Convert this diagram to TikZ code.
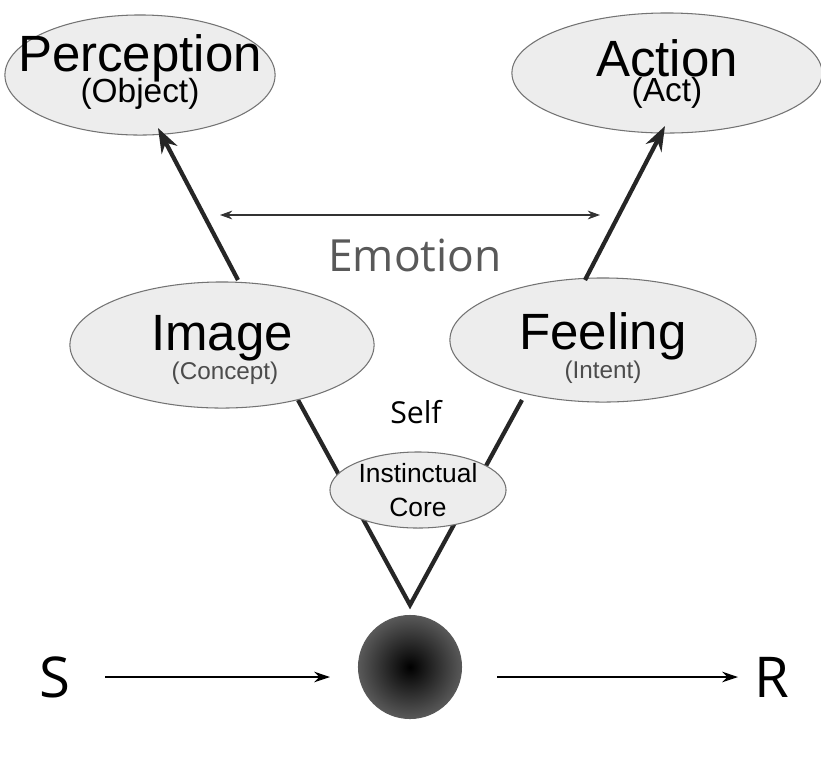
\documentclass[tikz,border=0pt]{standalone}
\usepackage{fontspec}
\setmainfont{Liberation Sans}
\newfontfamily\osans{Open Sans}
\usetikzlibrary{shapes.geometric,arrows.meta}
\begin{document}
\begin{tikzpicture}[x=0.01cm,y=-0.01cm,
 ell/.style={draw=black!55,line width=0.3pt,fill=black!7,ellipse,inner sep=0pt},
 big/.style={font=\fontsize{14.5}{14.5}\selectfont},
 sub/.style={font=\fontsize{9.5}{9.5}\selectfont},
 vline/.style={line width=1.2pt,black!85},
 harr/.style={-{Stealth[length=4.5pt,width=3pt]},line width=0.35pt}]
\useasboundingbox (0,0) rectangle (821,778);
\fill[white] (0,0) rectangle (821,778);
\coordinate (v) at (410,605);
\draw[vline] (298,400) -- (v) -- (522,400);
\node[ell,minimum width=2.7cm,minimum height=1.2cm] (per) at (140,75) {};
\node[ell,minimum width=3.1cm,minimum height=1.2cm] (act) at (667,73) {};
\node[ell,minimum width=3.04cm,minimum height=1.26cm] (img) at (222,345) {};
\node[ell,minimum width=3.06cm,minimum height=1.24cm] (fee) at (603,340) {};
\node[ell,minimum width=1.76cm,minimum height=0.76cm] (core) at (418,490) {};
\node[big] at (140,58) {Perception};
\node[sub] at (140,94) {(Object)};
\node[big] at (667,58) {Action};
\node[sub] at (667,93) {(Act)};
\node[big] at (222,338) {Image};
\node[font=\fontsize{6.9}{6.9}\selectfont,black!70] at (225,373) {(Concept)};
\node[big] at (603,336) {Feeling};
\node[font=\fontsize{6.9}{6.9}\selectfont,black!70] at (603,372) {(Intent)};
\node[font=\fontsize{7.5}{9.5}\selectfont,align=center] at (418,490) {Instinctual\\Core};
\node[font=\osans\fontsize{8.6}{8.6}\selectfont] at (416,412) {Self};
\node[font=\osans\fontsize{12.6}{12.6}\selectfont,black!65] (emo) at (415,255) {Emotion};
\coordinate (pa) at (158,128);
\coordinate (aa) at (665,126);
\draw[vline,-{Stealth[length=7pt,width=5pt]}] (238,280) -- (pa);
\draw[vline,-{Stealth[length=7pt,width=5pt]}] (585,280) -- (aa);
\coordinate (el) at (220,215);
\coordinate (er) at (600,215);
\draw[{Stealth[length=3.5pt,width=2.5pt]}-{Stealth[length=3.5pt,width=2.5pt]},line width=0.3pt,black!80] (el) -- (er);
\shade[inner color=black,outer color=black!65] (410,667) circle (0.52cm);
\node[circle,minimum size=1.04cm] (ball) at (410,667) {};
\node[font=\osans\fontsize{16}{16}\selectfont] (S) at (55,677) {S};
\node[font=\osans\fontsize{16}{16}\selectfont] (R) at (772,677) {R};
\draw[harr] (105,677) -- (330,677);
\draw[harr] (497,677) -- (738,677);
\end{tikzpicture}
\end{document}
